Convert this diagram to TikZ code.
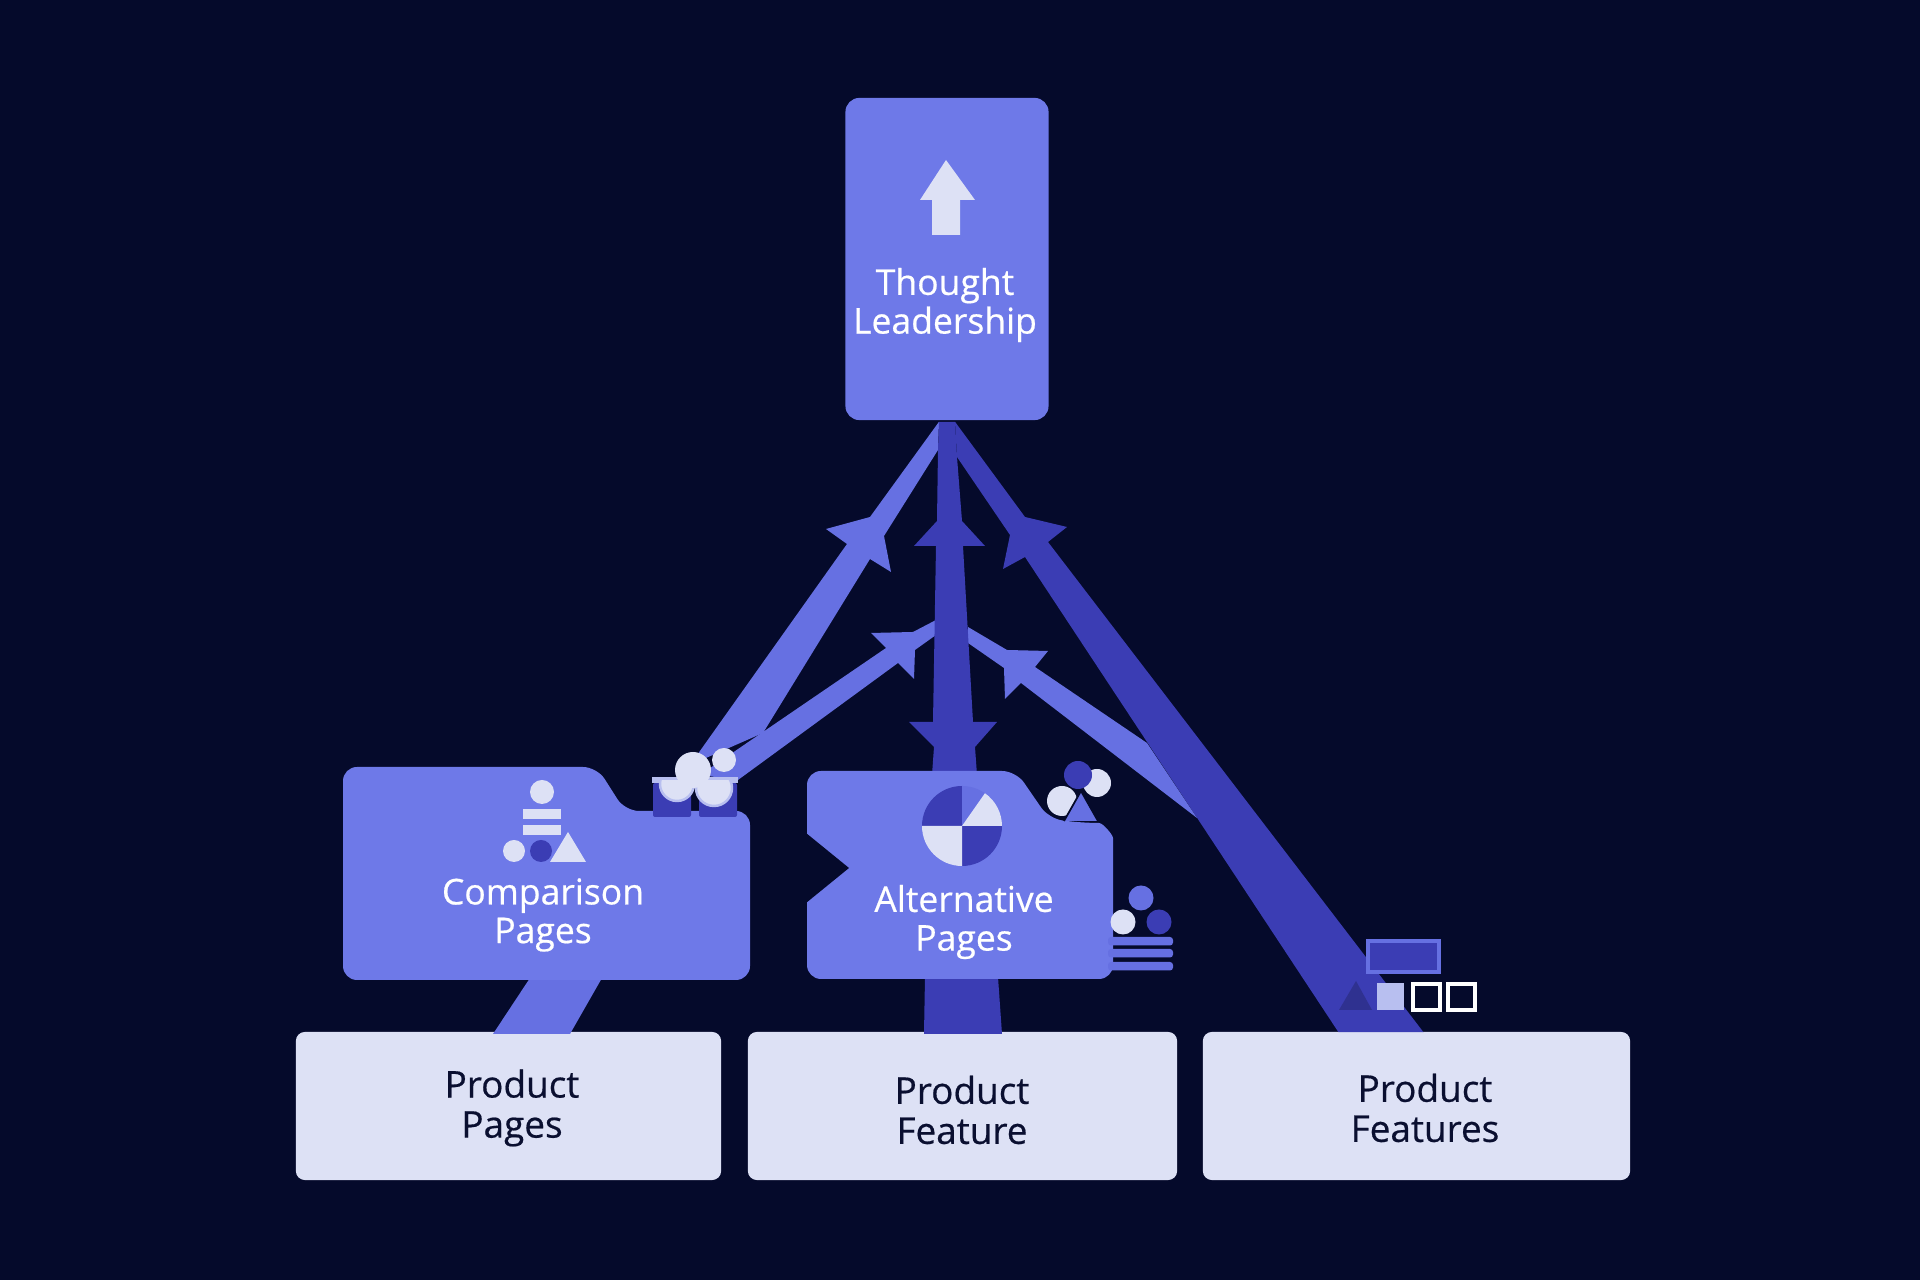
\documentclass[tikz,border=0pt]{standalone}
\usepackage{fontspec}
\setmainfont{Open Sans}
\newfontfamily\labelfont[FakeBold=0.5]{Open Sans}
\usetikzlibrary{calc}
\definecolor{nightbg}{HTML}{050A2B}
\definecolor{boxblue}{HTML}{6E79E8}
\definecolor{flowlight}{HTML}{6670E2}
\definecolor{flowdark}{HTML}{3B3DB4}
\definecolor{paleblue}{HTML}{DDE1F5}
\definecolor{midlight}{HTML}{B8BFF0}
\definecolor{inktext}{HTML}{0A0F30}
\tikzset{
	flowbox/.style={fill=boxblue, rounded corners=.14cm, inner sep=0pt},
	basebox/.style={fill=paleblue, rounded corners=.09cm, inner sep=0pt, minimum height=1.48cm, text=inktext, align=center, font=\labelfont\fontsize{10.5}{11.4}\selectfont},
	flowtext/.style={text=white, align=center, inner sep=0pt, font=\labelfont\fontsize{10.1}{11}\selectfont},
	lightflow/.style={fill=flowlight},
	darkflow/.style={fill=flowdark},
}

\begin{document}
\begin{tikzpicture}[x=.01cm, y=-.01cm]
	
	% Draw the background.
	\fill[nightbg] (0,0) rectangle (1920,1280);
	\useasboundingbox (0,0) rectangle (1920,1280);
	
	% Place the boxes first, so that the flows can start from them.
	\node[flowbox, minimum width=2.03cm, minimum height=3.22cm] (thought) at (947,259) {};
	\foreach \name/\x/\w in {pages/508.5/4.25, feature/962.5/4.29, features/1416.5/4.27}{
		\node[basebox, minimum width=\w cm] (\name) at (\x,1106) {};
	}
	\coordinate (compare) at (546,980);
	\coordinate (alternative) at (961,979);
	
	% Draw the flows behind the pages.
	\fill[lightflow] (thought.south) ++(-8,1) -- (870,517) -- (826,529) -- (847,544) -- (690,765) -- (763,733) -- (870,559) -- (891,572) -- (884,536) -- (938,450) -- cycle;
	\fill[lightflow] (936,620) -- (913,632) -- (871,633) -- (886,648) -- (700,775) -- (738,780) -- (898,663) -- (914,679) -- (915,650) -- (936,635) -- cycle;
	\fill[darkflow] (thought.south) ++(8,1) -- (1025,517) -- (1067,527) -- (1048,542) -- ($(features.north)+(7,1)$) -- ($(features.north)+(-78,1)$) -- (1025,557) -- (1003,569) -- (1010,535) -- (957,457) -- cycle;
	\fill[lightflow] (968,627) -- (1007,650) -- (1048,651) -- (1035,667) -- (1147,743) -- (1197,818) -- (1021,683) -- (1005,699) -- (1004,668) -- (968,643) -- cycle;
	\fill[darkflow] (thought.south) ++(-8,1) -- ++(16,0) -- (957,457) -- (962,521) -- (985,546) -- (963,546) -- (973,722) -- (997,722) -- (975,747) -- (977,775) -- (932,775) -- (934,747) -- (909,722) -- (933,722) -- (936,546) -- (914,546) -- (937,521) -- (938,450) -- cycle;
	
	% Draw the feet down to the bottom row.
	\fill[lightflow] (compare) ++(-16,-2) -- ++(72,0) -- (570,1034) -- (493,1034) -- cycle;
	\fill[darkflow] (alternative) ++(-36,-2) -- ++(73,0) -- (1002,1034) -- (924,1034) -- cycle;
	
	% Draw the page shapes with their tabs and the notch.
	\fill[flowbox] (343,767) -- (597,767) -- (625,811) -- (750,811) -- (750,980) -- (343,980) -- cycle;
	\fill[boxblue, rounded corners=.14cm] (807,771) -- (1016,771) -- (1049,819) -- (1085,823) .. controls (1103,823) and (1113,835) .. (1113,852) -- (1113,979) -- (807,979) -- cycle;
	\fill[nightbg] (806,903) -- (849,868) -- (806,833) -- cycle;
	
	% Draw the texts.
	\node[flowtext] (thoughttext) at (945,305) {Thought\\Leadership};
	\node[flowtext] (comparetext) at (543,915) {Comparison\\Pages};
	\node[flowtext] (alternativetext) at (964,922) {Alternative\\Pages};
	\node[basebox, fill=none, minimum width=0cm] (pagestext) at (512,1108) {Product\\Pages};
	\node[basebox, fill=none, minimum width=0cm] (featuretext) at (962,1110) {Product\\Feature};
	\node[basebox, fill=none, minimum width=0cm] (featurestext) at (1425,1108) {Product\\Features};
	
	% Draw the up arrow on the top box.
	\fill[paleblue] (946,160) -- (975,200) -- (960,200) -- (960,235) -- (932,235) -- (932,200) -- (920,200) -- cycle;
	
	% Draw the signs on the comparison box.
	\fill[paleblue] (542,792) circle (12);
	\foreach \y in {809,825}{
		\fill[paleblue] (523,\y) rectangle (561,\y+10);
	}
	\fill[paleblue] (514,851) circle (11);
	\fill[flowdark] (541,851) circle (11);
	\fill[paleblue] (550,862) -- (586,862) -- (568,832) -- cycle;
	
	% Draw the cup on the corner of the comparison box.
	\foreach \x in {653,699}{
		\fill[flowdark, rounded corners=.02cm] (\x,783) rectangle (\x+38,817);
	}
	\fill[midlight] (652,777) rectangle (738,783);
	\begin{scope}
		\clip (650,781) rectangle (740,812);
		\foreach \x/\y/\r in {677/784/17, 714/788/18}{
			\fill[paleblue, draw=midlight, line width=.7pt] (\x,\y) circle (\r);
		}
	\end{scope}
	\fill[paleblue] (724,760) circle (12);
	\fill[paleblue] (693,770) circle (18);
	
	% Draw the pie on the alternative box.
	\foreach \a/\b/\col in {180/270/flowdark, 0/90/flowdark, 90/180/paleblue, 270/360/flowlight, 305/360/paleblue}{
		\fill[\col] (962,826) -- ++(\a:40) arc[start angle=\a, end angle=\b, radius=40] -- cycle;
	}
	
	% Draw the signs at the corner of the alternative box.
	\fill[paleblue] (1097,783) circle (14);
	\fill[flowdark] (1078,775) circle (14);
	\fill[paleblue] (1062,801) circle (15);
	\fill[flowlight] (1064,821) -- (1098,821) -- (1081,791) -- cycle;
	\draw[nightbg, line width=.5pt] (1064,821) -- (1081,791) -- (1098,821);
	
	% Draw the dots and bars beside the alternative box.
	\foreach \x/\y/\col in {1141/898/flowlight, 1123/922/paleblue, 1159/922/flowdark}{
		\fill[\col] (\x,\y) circle (12.5);
	}
	\foreach \y in {937,949,962}{
		\fill[flowlight, rounded corners=.03cm] (1108,\y) rectangle (1173,\y+8.5);
	}
	
	% Draw the signs near the last flow.
	\fill[flowdark] (1367,940) rectangle (1440,973);
	\draw[flowlight, line width=1pt] (1368,941) rectangle (1439,972);
	\fill[flowdark!80!black] (1339,1010) -- (1372,1010) -- (1356,981) -- cycle;
	\fill[midlight] (1377,983) rectangle (1404,1010);
	\foreach \x in {1413,1448}{
		\draw[white, fill=nightbg, line width=.9pt] (\x,984) rectangle (\x+27,1010);
	}
	
\end{tikzpicture}
\end{document}
